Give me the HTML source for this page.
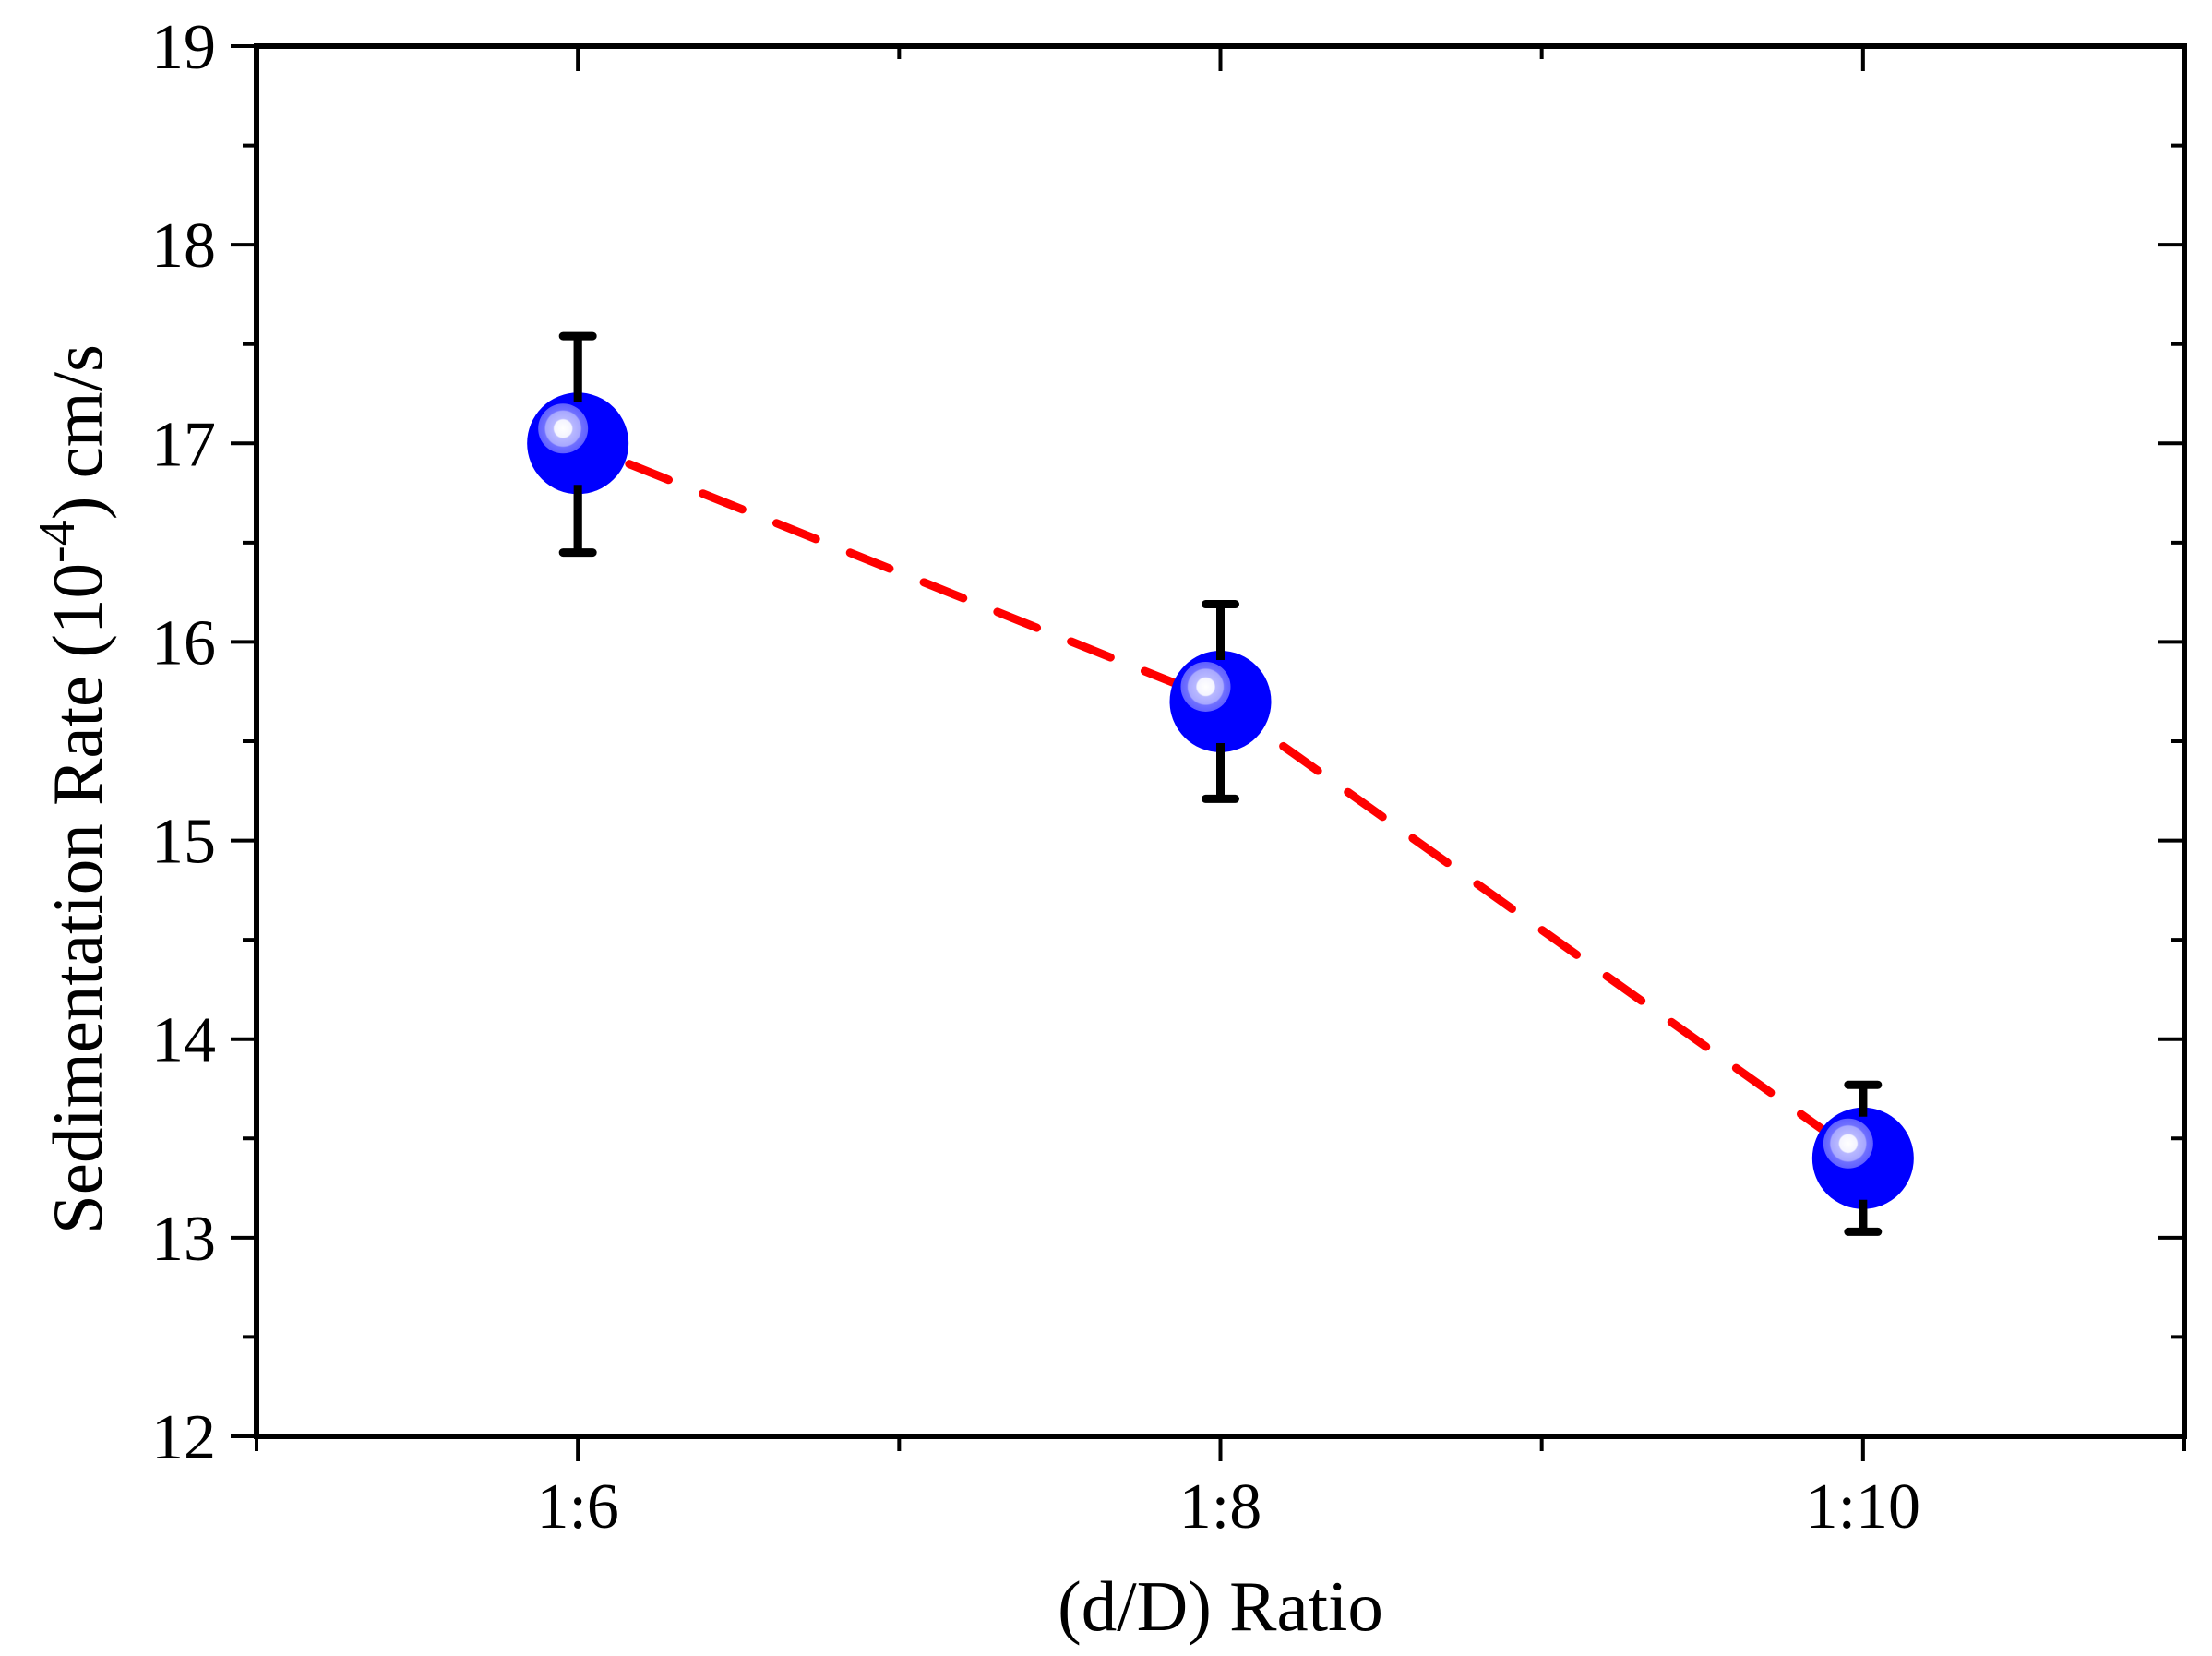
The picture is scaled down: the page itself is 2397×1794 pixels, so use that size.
<!DOCTYPE html>
<html><head><meta charset="utf-8"><style>
html,body{margin:0;padding:0;background:#fff;}
svg{display:block;font-family:"Liberation Serif",serif;}
</style></head><body>
<svg id="chart" width="2397" height="1794" viewBox="0 0 2397 1794" xmlns="http://www.w3.org/2000/svg">
<defs>
<radialGradient id="hl" cx="0.5" cy="0.5" r="0.5">
<stop offset="0" stop-color="#ffffff"/><stop offset="0.35" stop-color="#f4f4ff"/><stop offset="0.4" stop-color="#b8b8ff"/><stop offset="0.7" stop-color="#a8a8ff"/><stop offset="0.75" stop-color="#7070ff"/><stop offset="1" stop-color="#6060ff"/>
</radialGradient>
</defs>
<g id="marks"></g>
<g id="axes"></g>
</svg>
<script>
const categories = ["1:6", "1:8", "1:10"];
const values = [17.0, 15.70, 13.40];
const errUpper = [17.54, 16.19, 13.77];
const errLower = [16.45, 15.21, 13.03];
const yTicks = [12, 13, 14, 15, 16, 17, 18, 19];

const L = 278, R = 2367, T = 50, B = 1556;
const xMin = 0.5, xMax = 3.5, yMin = 12, yMax = 19;
function xs(i){ return L + (i + 1 - xMin) / (xMax - xMin) * (R - L); }
function ys(v){ return B - (v - yMin) / (yMax - yMin) * (B - T); }
const NS = "http://www.w3.org/2000/svg";
function mk(tag, attrs, parent){ const e = document.createElementNS(NS, tag); for (const k in attrs) e.setAttribute(k, attrs[k]); parent.appendChild(e); return e; }
const marks = document.getElementById('marks');
const axes = document.getElementById('axes');

let pts = values.map((v,i)=>xs(i)+","+ys(v)).join(" ");
const line = mk('polyline', {points: pts, fill:'none', stroke:'#ff0000', 'stroke-width':9, 'stroke-linecap':'round', 'stroke-dasharray':'46 40', 'stroke-dashoffset':'-60'}, marks);



values.forEach((v,i)=>{
  const cx = xs(i), cy = ys(v);
  const g = mk('g', {}, marks);
  
  
  const eb = mk('path', {d:`M${cx},${ys(errUpper[i])}V${ys(errLower[i])}M${cx-16},${ys(errUpper[i])}H${cx+16}M${cx-16},${ys(errLower[i])}H${cx+16}`, stroke:'#000', 'stroke-width':9, 'stroke-linecap':'round', fill:'none'}, g);
  
  
  const c = mk('circle', {cx:cx, cy:cy, r:55, fill:'#0000ff'}, g);
  
  
  mk('circle', {cx:cx-16, cy:cy-16, r:27, fill:'url(#hl)'}, g);
  mk('path', {d:`M${cx},${ys(errUpper[i])}V${cy-45}M${cx},${cy+45}V${ys(errLower[i])}`, stroke:'#000', 'stroke-width':9, fill:'none'}, g);
});

const fr = mk('rect', {x:L, y:T, width:R-L, height:B-T, fill:'none', stroke:'#000', 'stroke-width':6}, axes);


let tk = "";
yTicks.forEach((v,i)=>{
  const y = ys(v);
  tk += `M${L-28},${y}H${L}M${R},${y}H${R-29}`;
  if (i < yTicks.length-1){ const ym = ys(v+0.5); tk += `M${L-15},${ym}H${L}M${R},${ym}H${R-14}`; }
  const t = mk('text', {x:L-44, y:y+24, 'font-size':70, 'text-anchor':'end', fill:'#000'}, axes);
  t.textContent = v;
  
  
});
categories.forEach((c,i)=>{
  const x = xs(i);
  tk += `M${x},${B}V${B+27}M${x},${T}V${T+27}`;
  const t = mk('text', {x:x, y:1655, 'font-size':70, 'text-anchor':'middle', fill:'#000'}, axes);
  t.textContent = c;
  
  
});
[0.5,1.5,2.5,3.5].forEach(v=>{
  const x = L + (v - xMin)/(xMax-xMin)*(R-L);
  tk += `M${x},${B}V${B+16}M${x},${T}V${T+14}`;
});
mk('path', {d:tk, stroke:'#000', 'stroke-width':4, fill:'none'}, axes);

const xt = mk('text', {x:(L+R)/2, y:1766, 'font-size':77, 'text-anchor':'middle', fill:'#000'}, axes);
xt.textContent = "(d/D) Ratio";


const yt = mk('text', {x:0, y:0, 'font-size':77, 'text-anchor':'middle', fill:'#000', transform:'translate(110,855) rotate(-90)'}, axes);
yt.innerHTML = 'Sedimentation Rate (10<tspan dy="-30" font-size="56">-4</tspan><tspan dy="30">) cm/s</tspan>';


</script>
</body></html>
